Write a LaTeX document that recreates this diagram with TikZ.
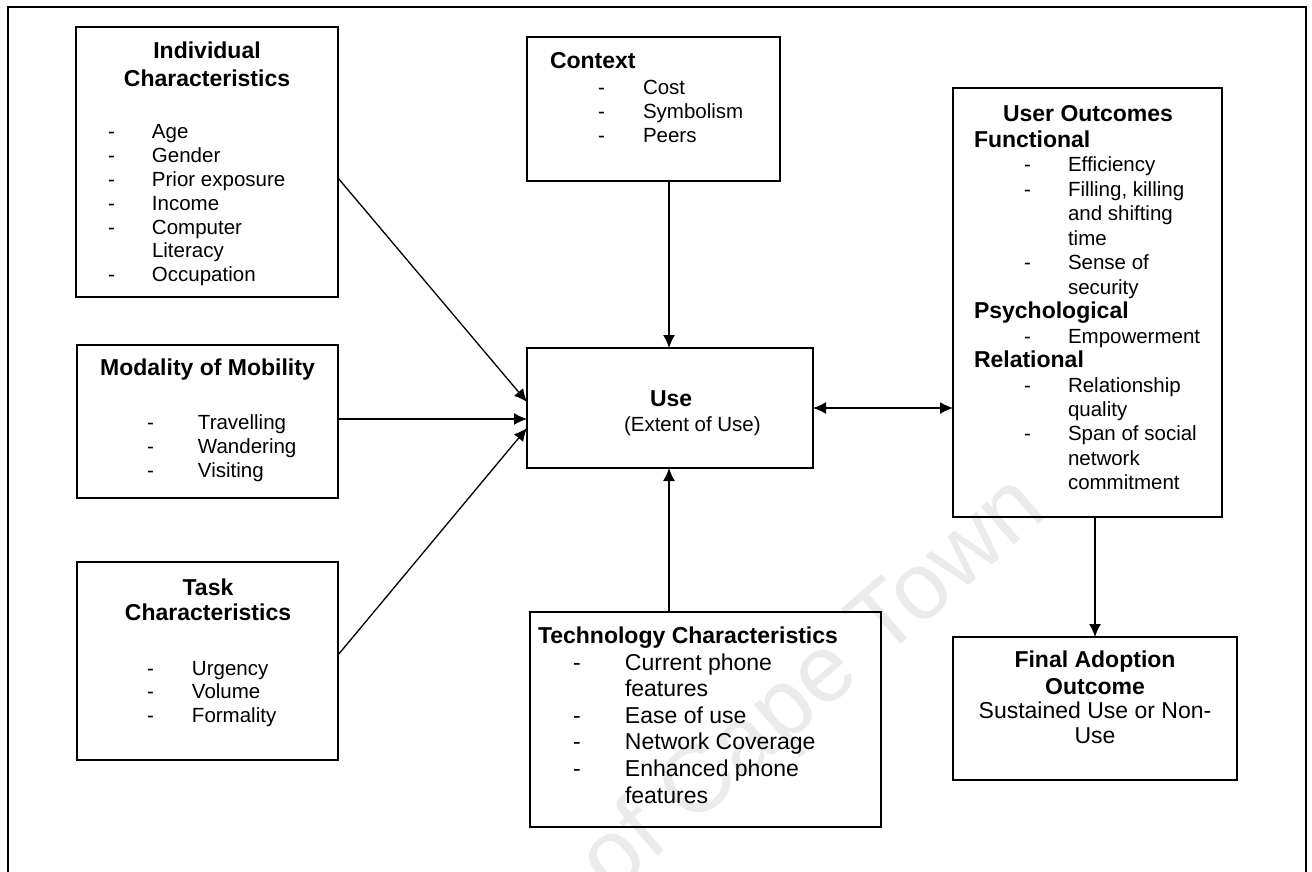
\documentclass[tikz,border=0pt]{standalone}
\usepackage{fontspec}
\setmainfont{Liberation Sans}
\usetikzlibrary{arrows.meta}
\begin{document}
\begin{tikzpicture}[x=1pt,y=-1pt,
  box/.style={draw, line width=1.5pt, inner sep=0pt, outer sep=0pt, anchor=north west},
  txt/.style={inner sep=0pt, outer sep=0pt, anchor=base west},
  ctxt/.style={inner sep=0pt, outer sep=0pt, anchor=base},
  hd/.style={font=\bfseries\fontsize{23}{#1}\selectfont},
  hd/.default=27,
  body/.style={font=\fontsize{20.5}{#1}\selectfont},
  body/.default=24,
  link/.style={line width=1.3pt, -{Latex[length=13pt,width=12pt]}},
  dlink/.style={line width=1.3pt, {Latex[length=13pt,width=12pt]}-{Latex[length=13pt,width=12pt]}}
]
\useasboundingbox (0,0) rectangle (1312,872);

% faint watermark behind everything
\node[font=\fontsize{95}{95}\selectfont, text=black!8, rotate=41,
      inner sep=0pt, anchor=base east] (wm) at (1050,515) {of Cape Town};

% outer frame (open at the bottom)
\draw[line width=1.5pt] (8,872) -- (8,7) -- (1306,7) -- (1306,872);

% ---------- boxes ----------
\node[box, minimum width=262pt, minimum height=270pt] (ind) at (76,27) {};
\node[box, minimum width=253pt, minimum height=144pt] (ctx) at (527,37) {};
\node[box, minimum width=269pt, minimum height=429pt] (uo) at (953,88) {};
\node[box, minimum width=261pt, minimum height=153pt] (mod) at (77,345) {};
\node[box, minimum width=286pt, minimum height=120pt] (use) at (527,348) {};
\node[box, minimum width=261pt, minimum height=198pt] (task) at (77,562) {};
\node[box, minimum width=351pt, minimum height=215pt] (tech) at (530,612) {};
\node[box, minimum width=284pt, minimum height=143pt] (fin) at (953,637) {};

% ---------- Individual Characteristics ----------
\node[ctxt, hd=28] (ind-h) at (207,59)
  {\begin{tabular}[t]{@{}c@{}}Individual\\Characteristics\end{tabular}};
\node[txt, body=23.8] (ind-l) at (108,139)
  {\begin{tabular}[t]{@{}p{44pt}@{}l@{}}
   -&Age\\ -&Gender\\ -&Prior exposure\\ -&Income\\
   -&Computer\\ &Literacy\\ -&Occupation\end{tabular}};

% ---------- Context ----------
\node[txt, hd] (ctx-h) at (550,69) {Context};
\node[txt, body=24] (ctx-l) at (598,95)
  {\begin{tabular}[t]{@{}p{45pt}@{}l@{}}
   -&Cost\\ -&Symbolism\\ -&Peers\end{tabular}};

% ---------- User Outcomes ----------
\node[ctxt, hd] (uo-h) at (1088,122) {User Outcomes};
\node[txt, body=24.5] (uo-l) at (974,147)
  {\begin{tabular}[t]{@{}p{50pt}@{}p{44pt}@{}l@{}}
   \multicolumn{3}{@{}l@{}}{\bfseries\fontsize{23}{24.5}\selectfont Functional}\\
   &-&Efficiency\\ &-&Filling, killing\\ &&and shifting\\ &&time\\
   &-&Sense of\\ &&security\\
   \multicolumn{3}{@{}l@{}}{\bfseries\fontsize{23}{24.5}\selectfont Psychological}\\
   &-&Empowerment\\
   \multicolumn{3}{@{}l@{}}{\bfseries\fontsize{23}{24.5}\selectfont Relational}\\
   &-&Relationship\\ &&quality\\ &-&Span of social\\ &&network\\ &&commitment
   \end{tabular}};

% ---------- Modality of Mobility ----------
\node[ctxt, hd] (mod-h) at (207.5,375) {Modality of Mobility};
\node[txt, body=24] (mod-l) at (147,429)
  {\begin{tabular}[t]{@{}p{51pt}@{}l@{}}
   -&Travelling\\ -&Wandering\\ -&Visiting\end{tabular}};

% ---------- Use ----------
\node[txt, hd] (use-h) at (650,406) {Use};
\node[txt, body] (use-s) at (624,431) {(Extent of Use)};

% ---------- Task Characteristics ----------
\node[ctxt, hd=25] (task-h) at (208,595)
  {\begin{tabular}[t]{@{}c@{}}Task\\Characteristics\end{tabular}};
\node[txt, body=23.5] (task-l) at (147,675)
  {\begin{tabular}[t]{@{}p{45pt}@{}l@{}}
   -&Urgency\\ -&Volume\\ -&Formality\end{tabular}};

% ---------- Technology Characteristics ----------
\node[txt, hd] (tech-h) at (538,643) {Technology Characteristics};
\node[txt, font=\fontsize{23}{26.6}\selectfont] (tech-l) at (573,670)
  {\begin{tabular}[t]{@{}p{52pt}@{}l@{}}
   -&Current phone\\ &features\\ -&Ease of use\\
   -&Network Coverage\\ -&Enhanced phone\\ &features\end{tabular}};

% ---------- Final Adoption Outcome ----------
\node[ctxt, hd=27] (fin-h) at (1095,667)
  {\begin{tabular}[t]{@{}c@{}}Final Adoption\\Outcome\end{tabular}};
\node[ctxt, font=\fontsize{23}{25}\selectfont] (fin-s) at (1095,718)
  {\begin{tabular}[t]{@{}c@{}}Sustained Use or Non-\\Use\end{tabular}};

% ---------- connectors ----------
\coordinate (mid) at (669,0);
\draw[link] (ctx.south -| mid) -- (use.north -| mid);
\draw[link] (tech.north -| mid) -- (use.south -| mid);
\draw[dlink] (use.east) -- (uo.west |- use.east);
\draw[link] (uo.south -| fin.north) -- (fin.north);
\draw[link] (ind.east |- 0,178) -- (use.west |- 0,402);
\draw[link] (mod.east |- 0,419) -- (use.west |- 0,419);
\draw[link] (task.east |- 0,655) -- (use.west |- 0,428);
\end{tikzpicture}
\end{document}
